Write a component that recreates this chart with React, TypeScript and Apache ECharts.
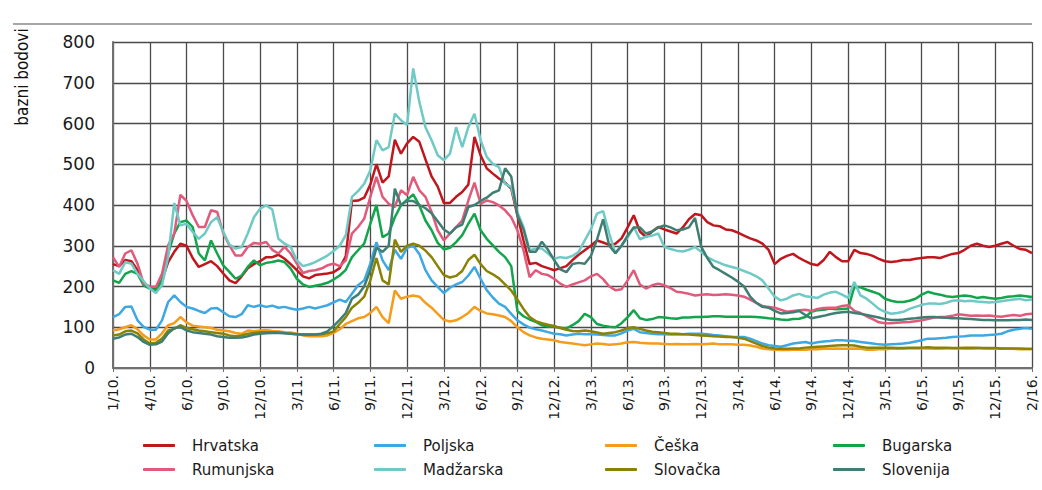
import React, { useEffect, useRef } from "react";
import * as echarts from "echarts";

// One point every 1/6 of a label interval (labels every 6 points)
const tickLabels = [
  "1/10.", "4/10.", "6/10.", "9/10.", "12/10.", "3/11.", "6/11.", "9/11.", "12/11.",
  "3/12.", "6/12.", "9/12.", "12/12.", "3/13.", "6/13.", "9/13.", "12/13.", "3/14.",
  "6/14.", "9/14.", "12/14.", "3/15.", "6/15.", "9/15.", "12/15.", "2/16.",
];

const hrvatska = [
  255, 250, 265, 262, 240, 205, 198, 196, 215, 260,
  285, 305, 300, 270, 248, 255, 262, 250, 232, 215,
  208, 225, 245, 255, 262, 272, 272, 278, 268, 255,
  240, 225, 220, 228, 230, 232, 235, 245, 275, 410,
  411, 418, 450, 500, 455, 470, 560, 526, 551, 567,
  555, 512, 470, 445, 405, 405, 420, 432, 450, 567,
  522, 490, 477, 465, 455, 440, 375, 313, 255, 258,
  250, 245, 240, 245, 250, 265, 278, 289, 300, 313,
  308, 302, 305, 318, 345, 375, 335, 321, 335, 346,
  340, 335, 330, 345, 365, 378, 375, 358, 350, 348,
  340, 338, 332, 325, 318, 313, 305, 290, 255, 268,
  275, 280, 270, 262, 255, 252, 265, 285, 272, 262,
  262, 290, 282, 280, 275, 268, 262, 260, 262, 265,
  265, 268, 270, 272, 272, 270, 275, 280, 282, 290,
  300, 305, 300, 297, 300, 305, 309, 300, 292, 290,
  282,
];

const poljska = [
  125, 132, 150, 151, 117, 101, 94, 94, 117, 162,
  178, 162, 150, 146, 140, 135, 146, 147, 137, 127,
  125, 132, 154, 150, 154, 150, 153, 148, 150, 146,
  143, 146, 150, 146, 150, 154, 161, 168, 162, 182,
  203, 215, 256, 309, 264, 240, 290, 268, 295, 300,
  280, 240, 215, 199, 184, 197, 205, 211, 227, 248,
  219, 191, 173, 158, 150, 133, 117, 107, 99, 95,
  92, 88, 84, 83, 80, 82, 84, 83, 83, 82,
  81, 80, 80, 85, 92, 96, 88, 86, 84, 83,
  83, 82, 82, 83, 84, 84, 84, 83, 81, 80,
  78, 76, 76, 76, 72, 66, 60, 56, 54, 52,
  56, 60, 62, 64, 60, 63, 65, 66, 68, 68,
  67, 66, 64, 62, 60, 58, 57, 58, 59, 60,
  62, 65, 68, 72, 72, 73, 74, 76, 77, 78,
  80, 80, 80, 81, 82, 84, 90, 94, 96, 98,
  96,
];

const ceska = [
  92, 95, 100, 105, 95, 80, 70, 70, 85, 105,
  110, 125, 112, 104, 102, 100, 98, 94, 92, 90,
  86, 84, 92, 90, 92, 93, 91, 90, 88, 87,
  84, 80, 78, 78, 78, 80, 86, 95, 108, 115,
  122, 125, 135, 150, 125, 110, 190, 170, 175, 178,
  175, 160, 148, 133, 118, 114, 117, 125, 135, 150,
  140, 134, 132, 129, 125, 115, 100, 88, 80, 75,
  72, 70, 68, 64, 62, 60, 58, 56, 58, 60,
  59, 57, 58, 60, 63, 64, 62, 61, 60, 60,
  59, 58, 59, 58, 58, 59, 58, 59, 60, 58,
  58, 58, 57, 57, 55, 52, 48, 46, 45, 44,
  44, 45, 45, 45, 46, 46, 47, 47, 48, 47,
  47, 48, 47, 45, 45, 46, 46, 47, 47, 47,
  48, 48, 48, 48, 47, 47, 48, 48, 48, 47,
  47, 48, 48, 47, 47, 48, 47, 47, 46, 46,
  46,
];

const bugarska = [
  215, 209, 231, 238, 231, 203, 195, 191, 215, 281,
  330, 358, 362, 346, 281, 264, 313, 281, 252, 236,
  219, 227, 248, 264, 252, 258, 260, 264, 260, 244,
  219, 205, 199, 202, 205, 209, 217, 227, 241, 272,
  289, 305, 354, 400, 321, 330, 370, 399, 413, 426,
  399, 362, 338, 307, 291, 295, 309, 326, 354, 379,
  338, 317, 301, 285, 272, 250, 140, 127, 119, 113,
  105, 102, 101, 99, 97, 105, 115, 133, 125, 108,
  104, 101, 100, 110, 125, 142, 122, 118, 120, 125,
  124, 122, 121, 124, 124, 125, 125, 126, 127, 127,
  126, 126, 126, 126, 126, 125, 124, 122, 121, 119,
  118, 120, 121, 125, 138, 142, 143, 146, 144, 145,
  146, 199, 198, 192, 187, 182, 170, 165, 162, 162,
  165, 170, 180, 187, 183, 180, 176, 174, 176, 178,
  176, 172, 174, 172, 170, 172, 175, 176, 178, 176,
  174,
];

const rumunjska = [
  272, 248, 281, 289, 256, 207, 200, 199, 231, 301,
  330, 425, 410, 375, 346, 346, 387, 383, 330, 301,
  276, 276, 297, 307, 305, 309, 290, 281, 297, 281,
  256, 233, 238, 240, 244, 252, 256, 250, 264, 330,
  346, 366, 420, 469, 420, 403, 395, 436, 424, 469,
  436, 420, 383, 338, 313, 330, 346, 362, 411, 455,
  403, 411, 407, 399, 387, 370, 338, 289, 223, 240,
  231, 228, 219, 207, 199, 205, 210, 215, 225, 231,
  218, 200, 191, 193, 215, 240, 205, 195, 203, 207,
  203, 196, 187, 185, 182, 178, 180, 181, 179, 180,
  181, 180, 178, 175, 168, 160, 152, 150, 148, 143,
  138, 140, 142, 143, 140, 145, 147, 148, 148, 152,
  154, 140, 135, 127, 120, 112, 110, 110, 111, 112,
  113, 115, 117, 120, 124, 125, 126, 128, 132, 130,
  128, 129, 128, 129, 127, 126, 128, 130, 128, 132,
  133,
];

const madzarska = [
  240, 231, 260, 256, 231, 213, 195, 184, 203, 272,
  405, 350, 354, 334, 317, 330, 358, 370, 334, 303,
  293, 297, 330, 370, 391, 399, 389, 317, 305, 297,
  264, 250, 254, 260, 268, 276, 287, 300, 326, 420,
  434, 452, 485, 559, 534, 542, 624, 608, 596, 735,
  653, 591, 559, 522, 510, 526, 591, 542, 591, 624,
  559, 518, 501, 493, 452, 444, 383, 346, 289, 293,
  293, 281, 268, 272, 270, 275, 285, 313, 340, 379,
  385, 330, 281, 300, 320, 346, 316, 322, 325, 330,
  297, 292, 288, 286, 290, 297, 285, 272, 264, 258,
  252, 248, 244, 238, 232, 225, 215, 195, 175, 166,
  170, 178, 182, 176, 174, 172, 180, 185, 187, 180,
  172, 211, 178, 170, 158, 145, 138, 133, 135, 138,
  145, 150, 155, 158, 158, 157, 160, 165, 166, 164,
  165, 163, 162, 161, 162, 164, 166, 168, 170, 166,
  168,
];

const slovacka = [
  80, 82, 90, 92, 85, 70, 60, 62, 72, 92,
  96, 105, 98, 95, 92, 90, 88, 86, 84, 80,
  78, 80, 84, 86, 88, 88, 88, 87, 86, 84,
  83, 82, 82, 82, 83, 85, 90, 108, 125, 148,
  160, 175, 215, 270, 215, 205, 315, 285, 300, 305,
  300, 288, 272, 250, 228, 222, 226, 238, 265, 278,
  255, 238, 230, 220, 205, 190, 168, 145, 125, 115,
  110, 106, 103, 98, 94, 91, 90, 92, 90, 87,
  84, 86, 88, 92, 98, 100, 96, 92, 89, 88,
  86, 84, 84, 83, 82, 81, 80, 79, 78, 77,
  76, 76, 74, 72, 66, 60, 54, 50, 48, 47,
  47, 48, 48, 50, 51, 52, 53, 54, 55, 56,
  56, 55, 52, 50, 50, 50, 50, 50, 49, 49,
  50, 50, 50, 51, 50, 50, 50, 49, 49, 50,
  50, 50, 49, 49, 49, 48, 48, 48, 48, 47,
  47,
];

const slovenija = [
  72, 75, 82, 84, 76, 64, 57, 58, 65, 85,
  98, 100, 92, 88, 86, 84, 82, 78, 76, 74,
  74, 75, 78, 82, 84, 85, 86, 86, 85, 84,
  83, 82, 82, 82, 84, 90, 103, 118, 135, 170,
  180, 200, 240, 295, 285, 300, 440, 400, 410, 410,
  400, 392, 380, 360, 340, 330, 345, 352, 395, 400,
  410, 418, 430, 436, 490, 470, 375, 340, 285, 285,
  310, 290, 265, 242, 235, 255, 258, 256, 275, 315,
  365, 300, 282, 300, 325, 345, 345, 330, 335, 345,
  350, 345, 338, 340, 345, 368, 298, 270, 248, 240,
  231, 222, 212, 200, 175, 160, 150, 148, 140, 134,
  135, 137, 140, 130, 122, 125, 128, 132, 135, 137,
  138, 135, 133, 130, 127, 124, 120, 118, 118, 119,
  121, 122, 124, 125, 125, 124, 123, 122, 122, 121,
  120, 119, 118, 118, 117, 117, 117, 118, 118, 119,
  118,
];

const seriesDefs = [
  { name: "Hrvatska", data: hrvatska, color: "#c0161e" },
  { name: "Poljska", data: poljska, color: "#3da8e2" },
  { name: "Češka", data: ceska, color: "#f59c1a" },
  { name: "Bugarska", data: bugarska, color: "#13a54b" },
  { name: "Rumunjska", data: rumunjska, color: "#e05a7c" },
  { name: "Madžarska", data: madzarska, color: "#6fc9c5" },
  { name: "Slovačka", data: slovacka, color: "#8a8205" },
  { name: "Slovenija", data: slovenija, color: "#3f7f73" },
];

const legendCols = [143, 374, 605, 833];
const legendRows = [438, 462];

export default function App() {
  const ref = useRef<HTMLDivElement>(null);

  useEffect(() => {
    if (!ref.current) return;
    const chart = echarts.init(ref.current, null, { renderer: "svg" });
    const gridColor = "#4a4a4a";
    chart.setOption({
      animation: false,
      backgroundColor: "#ffffff",
      grid: { left: 113, right: 10, top: 42, bottom: 122, containLabel: false },
      xAxis: {
        type: "value",
        min: 0,
        max: 150,
        interval: 6,
        axisLine: { show: true, lineStyle: { color: "#707070", width: 2 } },
        axisTick: { show: true, length: 4, lineStyle: { color: "#707070" } },
        splitLine: { show: true, lineStyle: { color: gridColor, width: 1.3 } },
        axisLabel: {
          rotate: 90,
          margin: 7,
          color: "#1a1a1a",
          fontSize: 14,
          fontFamily: "DejaVu Sans",
          formatter: (v: number) => tickLabels[Math.round(v / 6)] ?? "",
        },
      },
      yAxis: {
        type: "value",
        min: 0,
        max: 800,
        interval: 100,
        axisLine: { show: true, lineStyle: { color: "#707070", width: 2 } },
        axisTick: { show: false },
        splitLine: { show: true, lineStyle: { color: gridColor, width: 1.3 } },
        axisLabel: {
          margin: 18,
          color: "#1a1a1a",
          fontSize: 17,
          fontFamily: "DejaVu Sans",
        },
      },
      legend: seriesDefs.map((s, i) => ({
        data: [s.name],
        left: legendCols[i % 4],
        top: legendRows[Math.floor(i / 4)],
        icon: "roundRect",
        itemWidth: 32,
        itemHeight: 3,
        padding: 0,
        selectedMode: false,
        textStyle: {
          color: "#1a1a1a",
          fontSize: 15,
          fontFamily: "DejaVu Sans",
          padding: [0, 0, 0, 12],
        },
      })),
      graphic: [
        {
          type: "line",
          shape: { x1: 13, y1: 24, x2: 1032, y2: 24 },
          style: { stroke: "#8a8a8a", lineWidth: 1.5 },
          silent: true,
        },
        {
          type: "text",
          x: 22,
          y: 77,
          rotation: Math.PI / 2,
          style: {
            text: "bazni bodovi",
            fill: "#111",
            fontSize: 17,
            fontFamily: "'Liberation Sans Narrow', 'DejaVu Sans Condensed', 'Liberation Sans', sans-serif",
            align: "center",
            verticalAlign: "middle",
            textAlign: "center",
            textVerticalAlign: "middle",
          },
          silent: true,
        },
      ],
      series: seriesDefs.map((s) => ({
        name: s.name,
        type: "line",
        data: s.data.map((v, j) => [j, v]),
        showSymbol: false,
        symbol: "none",
        color: s.color,
        lineStyle: { color: s.color, width: 2.5 },
        emphasis: { disabled: true },
      })),
    });
    return () => chart.dispose();
  }, []);

  return (
    <div
      ref={ref}
      style={{ position: "absolute", left: 0, top: 0, width: 1042, height: 490 }}
    />
  );
}
